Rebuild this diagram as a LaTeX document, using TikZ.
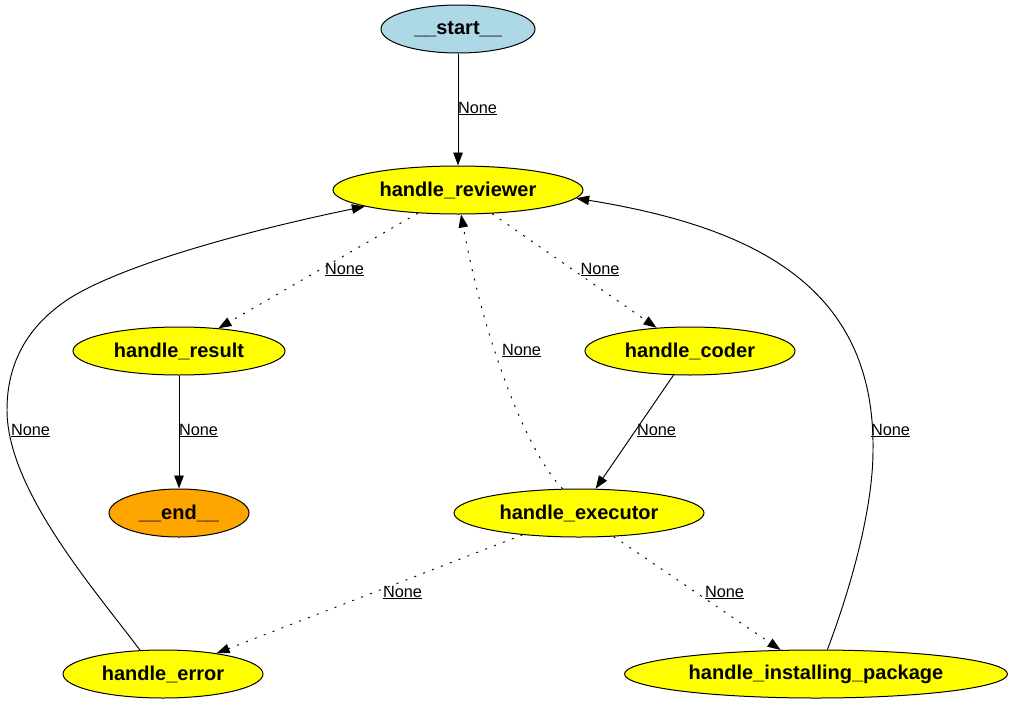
\documentclass[tikz,border=0pt]{standalone}
\usepackage{fontspec}
\setmainfont{Liberation Sans}
\usetikzlibrary{shapes.geometric,arrows.meta}
\definecolor{startblue}{HTML}{ADD8E6}
\definecolor{endorange}{HTML}{FFA500}
\definecolor{stateyellow}{HTML}{FFFF00}
% state names sit slightly above the ellipse centre
\newcommand{\statename}[1]{\raisebox{2pt}{#1}}

\begin{document}
\begin{tikzpicture}[x=1pt,y=-1pt,
  state/.style={ellipse,draw=black,line width=1pt,fill=stateyellow,inner sep=0pt,
    minimum height=48pt,font=\fontsize{20}{24}\selectfont\bfseries},
  edge/.style={line width=0.95pt,-{Triangle[length=13pt,width=9.5pt]}},
  dotedge/.style={edge,dash pattern=on 2pt off 7.5pt},
  elabel/.style={anchor=base,inner sep=0pt,font=\fontsize{16.3}{19}\selectfont}]
\useasboundingbox (0,0) rectangle (1014,704);

% states
\node[state,fill=startblue,minimum width=154pt] (start) at (458,29) {\statename{\_\_start\_\_}};
\node[state,minimum width=250pt] (reviewer) at (458,190) {\statename{handle\_reviewer}};
\node[state,minimum width=212pt] (result) at (179,351) {\statename{handle\_result}};
\node[state,minimum width=210pt] (coder) at (690,351) {\statename{handle\_coder}};
\node[state,fill=endorange,minimum width=140pt] (end) at (179,513) {\statename{\_\_end\_\_}};
\node[state,minimum width=250pt] (executor) at (579,513) {\statename{handle\_executor}};
\node[state,minimum width=200pt] (error) at (163,674) {\statename{handle\_error}};
\node[state,minimum width=383pt] (install) at (816,674) {\statename{handle\_installing\_package}};

% transitions
\draw[edge] (start) -- (reviewer);
\draw[dotedge] (reviewer) -- (result);
\draw[dotedge] (reviewer) -- (coder);
\draw[dotedge] (executor.124) .. controls (528,454) and (485,345) .. (reviewer.-83);
\draw[edge] (result) -- (end);
\draw[edge] (coder) -- (executor);
\draw[dotedge] (executor) -- (error);
\draw[dotedge] (executor) -- (install);
\draw[edge] (error.134) .. controls (95,590) and (7,490) .. (7,410)
  .. controls (7,360) and (30,325) .. (67,300)
  .. controls (120,265) and (250,230) .. (reviewer.190);
\draw[edge] (install.65) .. controls (850,590) and (873,510) .. (873,450)
  .. controls (875,290) and (760,228) .. (reviewer.-4);

% transition labels
\node[elabel] (l1) at (477.5,113) {\underline{None}};
\node[elabel] (l2) at (344.5,274) {\underline{None}};
\node[elabel] (l3) at (600,274) {\underline{None}};
\node[elabel] (l4) at (521.5,355) {\underline{None}};
\node[elabel] (l5) at (198.5,435) {\underline{None}};
\node[elabel] (l6) at (656.5,435) {\underline{None}};
\node[elabel] (l7) at (30.5,435) {\underline{None}};
\node[elabel] (l8) at (890.5,435) {\underline{None}};
\node[elabel] (l9) at (402.5,597) {\underline{None}};
\node[elabel] (l10) at (724.5,597) {\underline{None}};
\end{tikzpicture}
\end{document}
